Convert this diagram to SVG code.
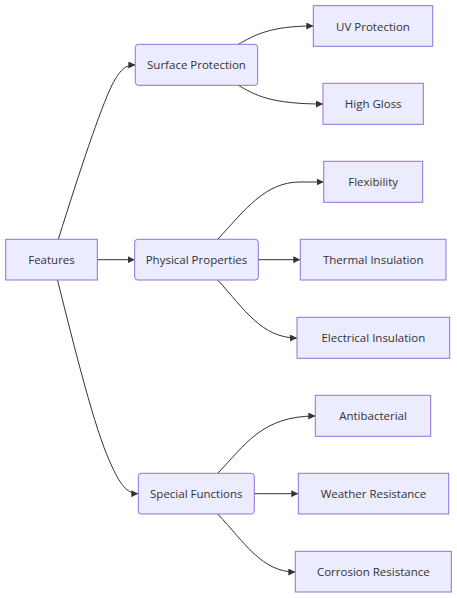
<svg xmlns="http://www.w3.org/2000/svg" width="457" height="598" viewBox="0 0 457 598">
<style>
.node rect{fill:#ECECFF;stroke:#9370DB;stroke-width:1}
.node text{font-family:"Open Sans","Liberation Sans",Arial,sans-serif;font-size:11.5px;fill:#333;text-anchor:middle;dominant-baseline:central}
.edge{fill:none;stroke:#333;stroke-width:1}
</style>
<defs>
<marker id="arrow" viewBox="0 0 10 10" refX="10" refY="5" markerUnits="userSpaceOnUse" markerWidth="7" markerHeight="7" orient="auto">
<path d="M0,0 L10,5 L0,10 z" fill="#333"/>
</marker>
</defs>
<rect width="457" height="598" fill="#fff"/>
<g id="connectors">
<path class="edge" marker-end="url(#arrow)" d="M58.3,239.3 C80,170 100,110 112,85 C120,70 125,65 135.3,65"/>
<path class="edge" marker-end="url(#arrow)" d="M97.3,259.7 L134.7,259.7"/>
<path class="edge" marker-end="url(#arrow)" d="M57.5,280 C75,350 95,430 110,462 C120,485 127,493.7 138.3,493.7"/>
<path class="edge" marker-end="url(#arrow)" d="M238.3,44.3 C255,35 270,26 313.3,26"/>
<path class="edge" marker-end="url(#arrow)" d="M238.3,85.3 C255,95 270,104 323,104"/>
<path class="edge" marker-end="url(#arrow)" d="M217.7,239.3 C245,210 265,182 300,182 L323.7,182"/>
<path class="edge" marker-end="url(#arrow)" d="M258.3,259.7 L300.3,259.7"/>
<path class="edge" marker-end="url(#arrow)" d="M217.7,280 C245,310 262,338 297,338"/>
<path class="edge" marker-end="url(#arrow)" d="M217.7,473.3 C245,445 262,416 315.3,416"/>
<path class="edge" marker-end="url(#arrow)" d="M254.3,493.7 L298.3,493.7"/>
<path class="edge" marker-end="url(#arrow)" d="M217.7,514 C245,543 262,572 295.3,572"/>
</g>
<g id="features" class="node"><rect x="5.7" y="239.3" width="91.6" height="40.7"/><text x="51.5" y="259.7">Features</text></g>
<g id="surface" class="node"><rect x="135.3" y="44.3" width="122.4" height="41" rx="3"/><text x="196.5" y="64.8">Surface Protection</text></g>
<g id="physical" class="node"><rect x="134.7" y="239.3" width="123.6" height="40.7" rx="3"/><text x="196.5" y="259.7">Physical Properties</text></g>
<g id="special" class="node"><rect x="138.3" y="473.3" width="116" height="40.7" rx="3"/><text x="196.3" y="493.7">Special Functions</text></g>
<g id="uv" class="node"><rect x="313.3" y="5.7" width="119.4" height="40.6"/><text x="373" y="26">UV Protection</text></g>
<g id="gloss" class="node"><rect x="323" y="83.3" width="100.3" height="41"/><text x="373.2" y="103.8">High Gloss</text></g>
<g id="flex" class="node"><rect x="323.7" y="161.3" width="99" height="41"/><text x="373.2" y="181.8">Flexibility</text></g>
<g id="thermal" class="node"><rect x="300.3" y="239.3" width="145.7" height="40.7"/><text x="373.2" y="259.7">Thermal Insulation</text></g>
<g id="electrical" class="node"><rect x="297" y="317.3" width="152.7" height="41"/><text x="373.3" y="337.8">Electrical Insulation</text></g>
<g id="antibacterial" class="node"><rect x="315.3" y="395.3" width="115.4" height="41"/><text x="373" y="415.8">Antibacterial</text></g>
<g id="weather" class="node"><rect x="298.3" y="473.3" width="150.4" height="40.7"/><text x="373.5" y="493.7">Weather Resistance</text></g>
<g id="corrosion" class="node"><rect x="295.3" y="551.3" width="156" height="40.7"/><text x="373.3" y="571.7">Corrosion Resistance</text></g>
</svg>
